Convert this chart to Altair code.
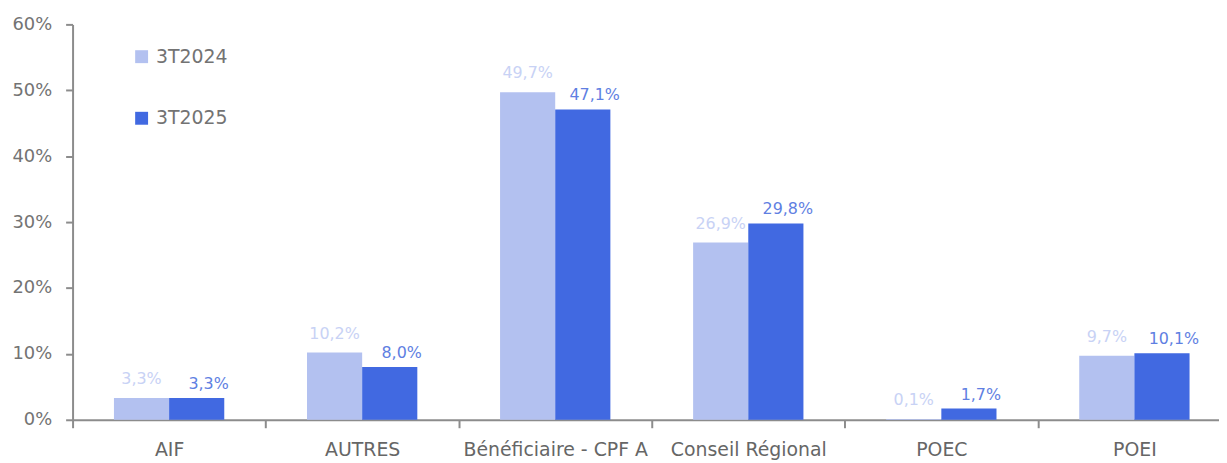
import altair as alt
import pandas as pd

categories = ["AIF", "AUTRES", "Bénéficiaire - CPF A", "Conseil Régional", "POEC", "POEI"]
series = ["3T2024", "3T2025"]
values_2024 = [3.3, 10.2, 49.7, 26.9, 0.1, 9.7]
values_2025 = [3.3, 8.0, 47.1, 29.8, 1.7, 10.1]

rows = []
for c, a, b in zip(categories, values_2024, values_2025):
    rows.append({"cat": c, "serie": series[0], "v": a, "lab": f"{a:.1f}%".replace(".", ",")})
    rows.append({"cat": c, "serie": series[1], "v": b, "lab": f"{b:.1f}%".replace(".", ",")})
df = pd.DataFrame(rows)

FONT = "DejaVu Sans"
bar_colors = ["#b3c1f0", "#4169e1"]

x_enc = alt.X(
    "cat:N", sort=categories, title=None,
    scale=alt.Scale(paddingInner=0, paddingOuter=0, range=[0, 1166]),
    axis=alt.Axis(labelAngle=0, labelFontSize=19, labelColor="#666666", labelFont=FONT,
                  labelPadding=13, labelLimit=400, labelOverlap=False, tickBand="extent",
                  tickSize=8, tickColor="#8c8c8c", tickWidth=2, domainColor="#8c8c8c",
                  domainWidth=2, grid=False),
)
xo_enc = alt.XOffset("serie:N", scale=alt.Scale(domain=series, paddingInner=0, paddingOuter=0.75))
y_enc = alt.Y(
    "v:Q", title=None,
    scale=alt.Scale(domain=[0, 60], nice=False),
    axis=alt.Axis(values=[0, 10, 20, 30, 40, 50, 60], labelExpr="datum.value + '%'",
                  labelFontSize=18, labelColor="#737373", labelFont=FONT,
                  labelPadding=14, tickSize=7, tickColor="#8c8c8c", tickWidth=2,
                  domainColor="#8c8c8c", domainWidth=2, grid=False),
)

base = alt.Chart(df)
bars = base.mark_bar().encode(
    x=x_enc, xOffset=xo_enc, y=y_enc,
    color=alt.Color("serie:N", scale=alt.Scale(domain=series, range=bar_colors),
                    legend=alt.Legend(orient="none", legendX=60, legendY=23, title=None,
                                      symbolType="square", symbolSize=169, symbolStrokeWidth=0,
                                      labelFontSize=19, labelColor="#737373", labelFont=FONT,
                                      rowPadding=42, padding=0, labelOffset=5)),
)
t1 = base.transform_filter(alt.datum.serie == series[0]).mark_text(
    baseline="bottom", dy=-11, fontSize=16, font=FONT, color="#c8d2f5"
).encode(x=x_enc, xOffset=xo_enc, y=y_enc, text="lab:N")
t2 = base.transform_filter(alt.datum.serie == series[1]).mark_text(
    baseline="bottom", dy=-6, dx=12, fontSize=16, font=FONT, color="#5f7fe2"
).encode(x=x_enc, xOffset=xo_enc, y=y_enc, text="lab:N")

chart = alt.layer(bars, t1, t2).properties(
    width=1154, height=398,
    autosize=alt.AutoSizeParams(type="none"),
    padding={"left": 65, "top": 15, "right": 0, "bottom": 40},
).configure_view(stroke=None)

chart.save("out.html", embed_options={"renderer": "svg", "actions": False})
